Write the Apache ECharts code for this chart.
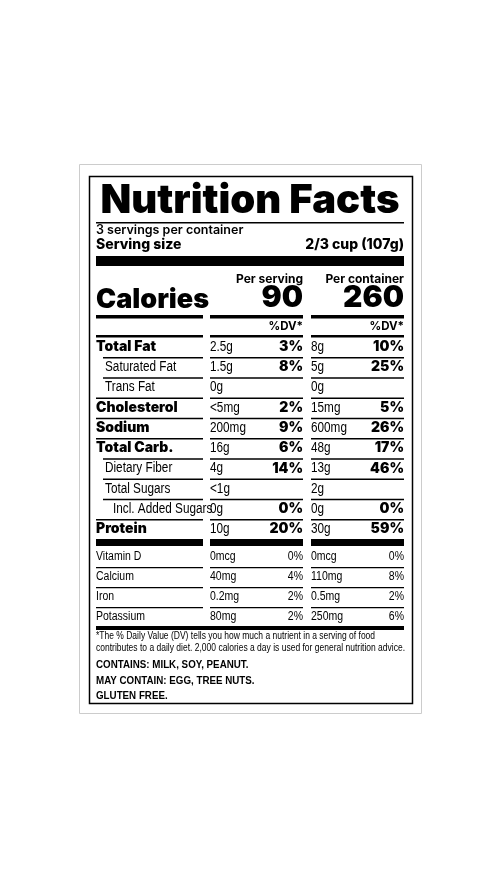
<!DOCTYPE html>
<html><head><meta charset="utf-8">
<script src="https://cdn.jsdelivr.net/npm/echarts@6/dist/echarts.min.js"></script>
<style>html,body{margin:0;padding:0;background:#fff}#c{width:500px;height:889px}</style>
</head><body><div id="c"></div>
<script>
const title = 'Nutrition Facts';
const servingsText = '3 servings per container';
const servingSize = ['Serving size', '2/3 cup (107g)'];
const colHeads = ['Per serving', 'Per container'];
const calories = ['Calories', '90', '260'];
const nutrients = ['Total Fat','Saturated Fat','Trans Fat','Cholesterol','Sodium','Total Carb.','Dietary Fiber','Total Sugars','Incl. Added Sugars','Protein'];
const indent = [0,1,1,0,0,0,1,1,2,0];
const servAmt = ['2.5g','1.5g','0g','<5mg','200mg','16g','4g','<1g','0g','10g'];
const servDV = ['3%','8%','','2%','9%','6%','14%','','0%','20%'];
const contAmt = ['8g','5g','0g','15mg','600mg','48g','13g','2g','0g','30g'];
const contDV = ['10%','25%','','5%','26%','17%','46%','','0%','59%'];
const vitamins = ['Vitamin D','Calcium','Iron','Potassium'];
const vitServAmt = ['0mcg','40mg','0.2mg','80mg'];
const vitServDV = ['0%','4%','2%','2%'];
const vitContAmt = ['0mcg','110mg','0.5mg','250mg'];
const vitContDV = ['0%','8%','2%','6%'];
const footnote = ['*The % Daily Value (DV) tells you how much a nutrient in a serving of food','contributes to a daily diet. 2,000 calories a day is used for general nutrition advice.'];
const allergens = ['CONTAINS: MILK, SOY, PEANUT.','MAY CONTAIN: EGG, TREE NUTS.','GLUTEN FREE.'];

const HB = 'Inter, "DejaVu Sans", sans-serif';
const NR = '"Liberation Sans", Arial, sans-serif';
const els = [];
function txt(x,y,s,size,font,weight,align,sx){els.push({type:'text',x:x,y:y,scaleX:sx||1,style:{text:s,fontSize:size,fontFamily:font,fontWeight:weight||'normal',fill:'#000',align:align||'left',verticalAlign:'middle'}});}
function rect(x,y,w,h,fill,stroke,lw){els.push({type:'rect',shape:{x:x,y:y,width:w,height:h},style:{fill:fill||'#000',stroke:stroke||null,lineWidth:lw||0}});}
const L=96,R=404,C1=210,C1R=303,C2=311;
const NS=0.84;
rect(79.5,164.5,342,549,'#fff','#ccc',1);
rect(89.5,176.5,323,527,'#fff','#000',1.5);
txt(250,201,title,40,HB,900,'center');
rect(L,222,R-L,1.5);
txt(L,230,servingsText,12.5,HB,600);
txt(L,245,servingSize[0],14,HB,800);
txt(R,245,servingSize[1],14,HB,800,'right');
rect(L,256,R-L,10);
txt(C1R,279,colHeads[0],12,HB,700,'right');
txt(R,279,colHeads[1],12,HB,700,'right');
txt(L,300,calories[0],27,HB,900);
txt(C1R,298,calories[1],30,HB,900,'right');
txt(R,298,calories[2],30,HB,900,'right');
[[L,203],[C1,C1R],[C2,R]].forEach(c=>{rect(c[0],315,c[1]-c[0],3.5);rect(c[0],335,c[1]-c[0],2.5);});
txt(C1R,327,'%DV*',11.5,HB,700,'right');
txt(R,327,'%DV*',11.5,HB,700,'right');
nutrients.forEach((n,i)=>{
  const y=347+i*20.25, b=indent[i]===0;
  txt(L+indent[i]*8+(indent[i]?1:0),y,n,b?14:14,b?HB:NR,b?900:'normal','left',b?1:NS);
  txt(C1,y,servAmt[i],14,NR,'normal','left',NS);
  txt(C1R,y,servDV[i],14,HB,900,'right');
  txt(C2,y,contAmt[i],14,NR,'normal','left',NS);
  txt(R,y,contDV[i],14,HB,900,'right');
  if(i<nutrients.length-1){
    const ly=y+10;
    const lx=L+(indent[i+1]>0?7:0);
    rect(lx,ly,203-lx,1.5);rect(C1,ly,C1R-C1,1.5);rect(C2,ly,R-C2,1.5);
  }
});
[[L,203],[C1,C1R],[C2,R]].forEach(c=>rect(c[0],539,c[1]-c[0],7));
vitamins.forEach((v,i)=>{
  const y=557+i*20;
  txt(L,y,v,12.5,NR,'normal','left',NS);
  txt(C1,y,vitServAmt[i],12.5,NR,'normal','left',NS);
  txt(C1R,y,vitServDV[i],12.5,NR,'normal','right',NS);
  txt(C2,y,vitContAmt[i],12.5,NR,'normal','left',NS);
  txt(R,y,vitContDV[i],12.5,NR,'normal','right',NS);
  if(i<vitamins.length-1){rect(L,y+10,203-L,1.2);rect(C1,y+10,C1R-C1,1.2);rect(C2,y+10,R-C2,1.2);}
});
rect(L,626,R-L,4);
footnote.forEach((f,i)=>txt(L,636+i*12.5,f,10,NR,'normal','left',0.85));
allergens.forEach((a,i)=>txt(L,665+i*15.5,a,11.5,NR,'bold','left',0.85));
const chart=echarts.init(document.getElementById('c'));
chart.setOption({animation:false,graphic:{elements:els}});
</script></body></html>
